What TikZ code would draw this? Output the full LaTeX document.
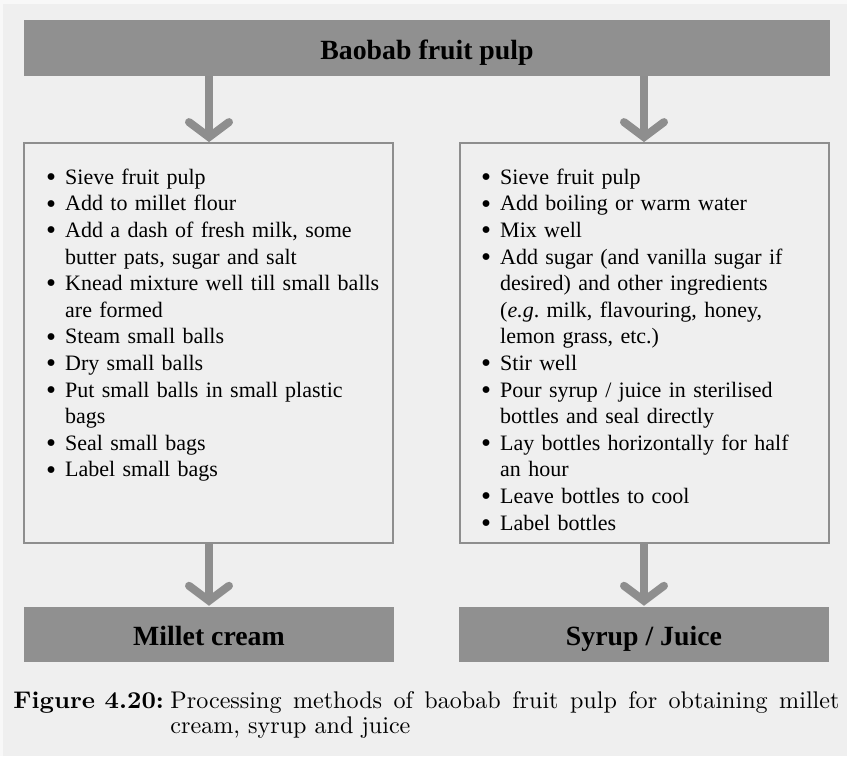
\documentclass[tikz,border=0pt]{standalone}
\usepackage{fontspec}
\usetikzlibrary{calc}
\newfontfamily\flowfont{Liberation Serif}

\definecolor{pagebg}{HTML}{EFEFEF}
\definecolor{edgebg}{HTML}{F8F8F8}
\definecolor{bargray}{HTML}{909090}
\definecolor{linegray}{HTML}{8E8E8E}

% line break that stays inside the paragraph, so the hanging indent holds
\newcommand\nl{\hfil\break}
% one bulleted step; continuation lines hang under the text
\newcommand\stepitem[1]{\par\noindent\hangindent=19pt\hangafter=1
  \strut\makebox[19pt][l]{\raisebox{-2.2pt}{\scalebox{1.3}{\textbullet}}}#1\par}

\tikzset{
  bar/.style={fill=bargray, draw=none, inner sep=0pt, text=black,
    text height=22pt, text depth=0pt,
    font={\flowfont\bfseries\fontsize{27.8}{30}\selectfont}},
  stepbox/.style={draw=linegray, line width=1.8pt, fill=pagebg, inner sep=0pt},
  steplist/.style={inner sep=0pt, anchor=north west, text width=345pt, align=left,
    font={\flowfont\fontsize{22}{26.6}\selectfont}},
  shaft/.style={draw=linegray, line width=8pt},
  chevron/.style={draw=linegray, line width=8pt, line cap=round, line join=miter},
  captionfont/.style={inner sep=0pt, scale=2.41, transform shape},
}

\begin{document}
\begin{tikzpicture}[x=1pt, y=-1pt]
  % page
  \fill[edgebg] (0,0) rectangle (847,756);
  \fill[pagebg] (3,4) rectangle (847,756);
  \path[use as bounding box] (0,0) rectangle (847,756);

  % source and products
  \node[bar, minimum width=806pt, minimum height=56pt] (pulp) at (427,48) {Baobab fruit pulp};
  \node[bar, minimum width=370pt, minimum height=55pt] (millet) at (209,634.5) {Millet cream};
  \node[bar, minimum width=370pt, minimum height=55pt] (syrup) at (644,634.5) {Syrup / Juice};

  % process boxes
  \node[stepbox, minimum width=369pt, minimum height=400pt] (leftbox) at (208.5,343) {};
  \node[stepbox, minimum width=369pt, minimum height=400pt] (rightbox) at (644.5,343) {};

  \node[steplist] (leftsteps) at (46,157.4) {%
    \stepitem{Sieve fruit pulp}
    \stepitem{Add to millet flour}
    \stepitem{Add a dash of fresh milk, some\nl butter pats, sugar and salt}
    \stepitem{Knead mixture well till small balls\nl are formed}
    \stepitem{Steam small balls}
    \stepitem{Dry small balls}
    \stepitem{Put small balls in small plastic\nl bags}
    \stepitem{Seal small bags}
    \stepitem{Label small bags}};

  \node[steplist] (rightsteps) at (481,157.4) {%
    \stepitem{Sieve fruit pulp}
    \stepitem{Add boiling or warm water}
    \stepitem{Mix well}
    \stepitem{Add sugar (and vanilla sugar if\nl desired) and other ingredients\nl (\textit{e.g}.\ milk, flavouring, honey,\nl lemon grass, etc.)}
    \stepitem{Stir well}
    \stepitem{Pour syrup / juice in sterilised\nl bottles and seal directly}
    \stepitem{Lay bottles horizontally for half\nl an hour}
    \stepitem{Leave bottles to cool}
    \stepitem{Label bottles}};

  % arrows: straight shaft ending in an open chevron
  \coordinate (v1) at ($(leftbox.north)+(0.5,-5)$);
  \coordinate (v2) at ($(rightbox.north)+(-0.5,-5)$);
  \coordinate (v3) at ($(millet.north)+(0,-6)$);
  \coordinate (v4) at ($(syrup.north)+(0,-6)$);

  \draw[shaft] (pulp.south -| v1) -- (v1);
  \draw[chevron] ($(v1)+(-20,-15)$) -- (v1) -- ($(v1)+(20,-15)$);
  \draw[shaft] (pulp.south -| v2) -- (v2);
  \draw[chevron] ($(v2)+(-20,-15)$) -- (v2) -- ($(v2)+(20,-15)$);
  \draw[shaft] (leftbox.south -| v3) -- (v3);
  \draw[chevron] ($(v3)+(-20,-15)$) -- (v3) -- ($(v3)+(20,-15)$);
  \draw[shaft] (rightbox.south -| v4) -- (v4);
  \draw[chevron] ($(v4)+(-20,-15)$) -- (v4) -- ($(v4)+(20,-15)$);

  % caption
  \node[captionfont, anchor=base west, font={\fontsize{10}{10.4}\selectfont\bfseries}]
    (figlabel) at (13,708) {\scalebox{1.04}[1]{Figure 4.20:}};
  \node[captionfont, anchor=north west, text width=277.6pt, align=justify,
    font={\fontsize{10}{10.4}\selectfont}]
    (figtext) at (170,690.5) {\strut Processing methods of baobab fruit pulp for obtaining millet\linebreak
    cream, syrup and juice};
\end{tikzpicture}
\end{document}
